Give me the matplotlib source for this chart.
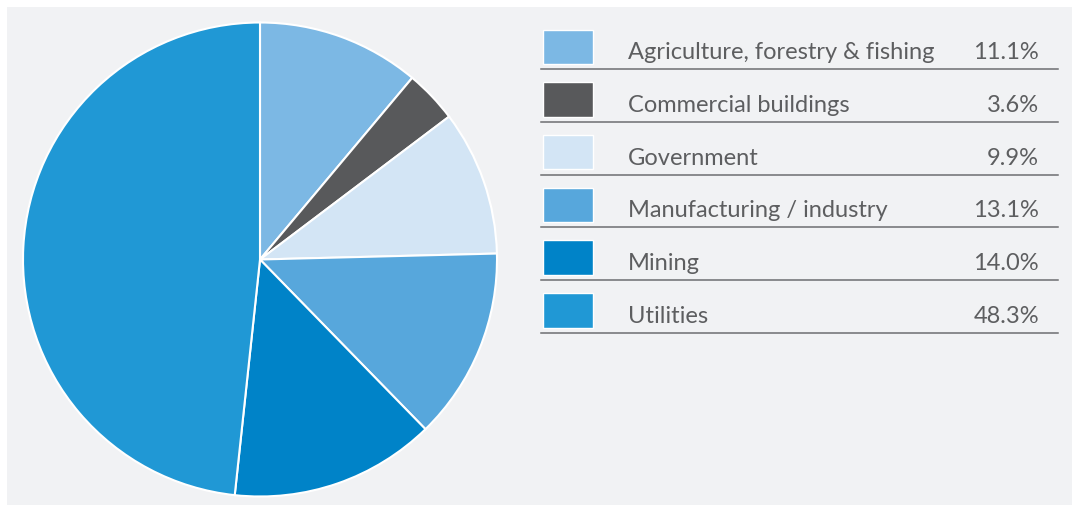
import matplotlib.pyplot as plt
from matplotlib.patches import Rectangle

# sector shares, clockwise from 12 o'clock
sectors = ['Agriculture, forestry & fishing', 'Commercial buildings', 'Government',
           'Manufacturing / industry', 'Mining', 'Utilities']
shares = [11.1, 3.6, 9.9, 13.1, 14.0, 48.3]
colors = ['#7cb8e4', '#58595b', '#d3e5f5', '#57a7dc', '#0083c8', '#2098d5']

W, H = 1072, 505
fig = plt.figure(figsize=(W / 100, H / 100), dpi=100)
fig.patch.set_facecolor('white')
fig.patches.append(Rectangle((7 / W, 0), 1, 1 - 7 / H, transform=fig.transFigure,
                             facecolor='#f1f2f4', edgecolor='none', zorder=-5))

# pie axes, sized in pixels
cx, cy, r = 260, 259.5, 237
ax = fig.add_axes([(cx - r) / W, (H - cy - r) / H, 2 * r / W, 2 * r / H])
ax.pie(shares, colors=colors, startangle=90, counterclock=False, radius=1,
       wedgeprops=dict(edgecolor='white', linewidth=1.5))
ax.set_xlim(-1, 1)
ax.set_ylim(-1, 1)
ax.set_axis_off()

# legend table drawn in pixel coordinates
lg = fig.add_axes([0, 0, 1, 1])
lg.set_xlim(0, W)
lg.set_ylim(H, 0)
lg.set_axis_off()
text_kw = dict(color='#5d5e60', fontsize=17, family=['Lato', 'DejaVu Sans'],
               va='baseline')
row_h = 52.7
for i, (name, val, c) in enumerate(zip(sectors, shares, colors)):
    top = 29.5 + i * row_h
    lg.add_patch(Rectangle((542.5, top), 50, 34.5, facecolor=c, edgecolor='white', linewidth=1))
    y = 59.3 + i * row_h
    lg.text(628, y, name, ha='left', **text_kw)
    lg.text(1039, y, f'{val:.1f}%', ha='right', **text_kw)
    ly = 69.3 + i * row_h
    lg.plot([541, 1058], [ly, ly], color='#6d6e71', linewidth=1.1)

fig.savefig('out.png', dpi=100)
